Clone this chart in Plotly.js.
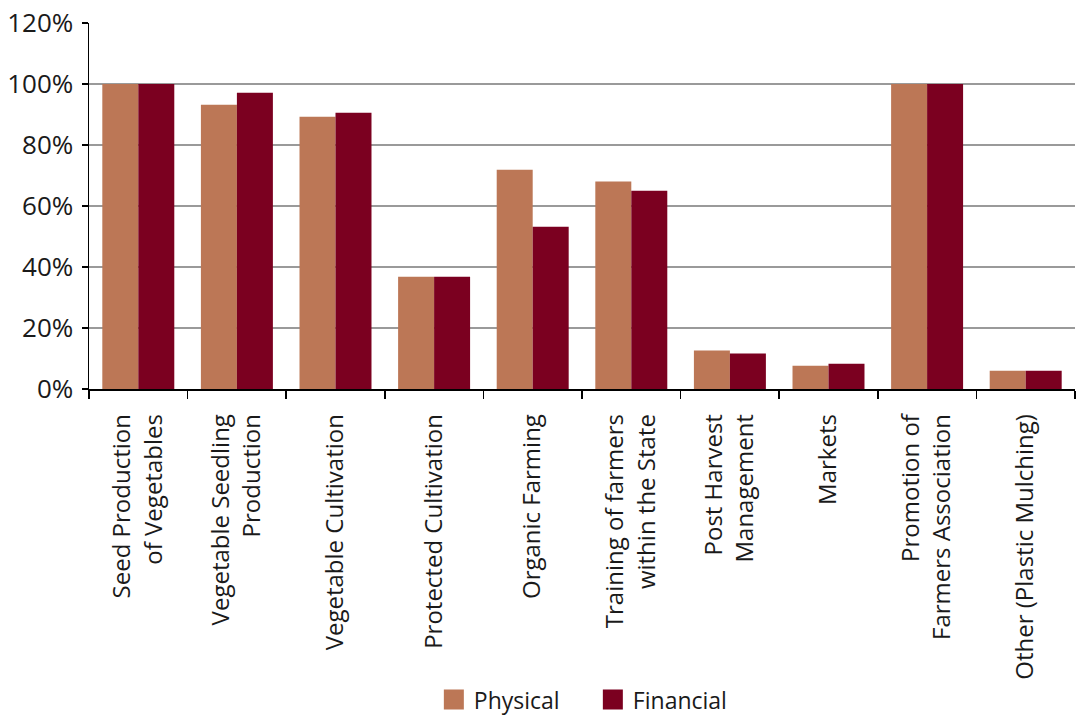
<!DOCTYPE html>
<html>
<head>
<meta charset="utf-8">
<script src="https://cdn.plot.ly/plotly-3.0.1.min.js"></script>
<style>html,body{margin:0;padding:0;background:#fff;}#chart{width:1076px;height:719px;}</style>
</head>
<body>
<div id="chart"></div>
<script>
const categories = [
  "Seed Production<br>of Vegetables",
  "Vegetable Seedling<br>Production",
  "Vegetable Cultivation",
  "Protected Cultivation",
  "Organic Farming",
  "Training of farmers<br>within the State",
  "Post Harvest<br>Management",
  "Markets",
  "Promotion of<br>Farmers Association",
  "Other (Plastic Mulching)"
];
const physical = [1.00, 0.932, 0.893, 0.368, 0.719, 0.680, 0.126, 0.076, 1.00, 0.060];
const financial = [1.00, 0.971, 0.906, 0.368, 0.532, 0.650, 0.116, 0.083, 1.00, 0.060];
const yTickVals = [0, 0.2, 0.4, 0.6, 0.8, 1.0, 1.2];
const yTickText = ["0%", "20%", "40%", "60%", "80%", "100%", "120%"];

const font = "'Open Sans', Lato, sans-serif";
const traces = [
  {type: "bar", name: "Physical", x: categories, y: physical, marker: {color: "#BC7756"}},
  {type: "bar", name: "Financial", x: categories, y: financial, marker: {color: "#7B0020"}}
];
const layout = {
  width: 1076, height: 719,
  margin: {l: 89, r: 1, t: 23, b: 330},
  paper_bgcolor: "#fff", plot_bgcolor: "#fff",
  font: {family: font, color: "#1a1a1a", size: 21},
  barmode: "group", bargap: 0.27, bargroupgap: 0,
  showlegend: true,
  legend: {orientation: "h", x: 0.511, xanchor: "center", yref: "container", y: 0.027, yanchor: "middle",
           font: {size: 23, family: font}, itemwidth: 30, tracegroupgap: 0,
           entrywidth: 114, entrywidthmode: "pixels"},
  xaxis: {
    type: "category", tickangle: -90, tickson: "boundaries", automargin: false,
    ticks: "outside", ticklen: 8, tickcolor: "#000", tickwidth: 1.5,
    ticklabelstandoff: 14,
    showline: true, linecolor: "#000", linewidth: 1.5,
    tickfont: {size: 24, family: font, color: "#1a1a1a"},
    showgrid: false
  },
  yaxis: {
    range: [0, 1.2], tickvals: yTickVals, ticktext: yTickText, automargin: false,
    ticks: "outside", ticklen: 6, tickcolor: "#000", tickwidth: 1.5,
    ticklabelstandoff: 3,
    showline: true, linecolor: "#000", linewidth: 1.5,
    showgrid: true, gridcolor: "#9a9a9a", gridwidth: 1.2,
    zeroline: false,
    tickfont: {size: 26, family: font, color: "#1a1a1a"}
  }
};
Plotly.newPlot("chart", traces, layout, {displayModeBar: false, staticPlot: true}).then(function (gd) {
  gd.querySelectorAll(".legend .legendpoints path").forEach(function (p) {
    p.setAttribute("d", "M10,10H-10V-10H10Z");
  });
});
</script>
</body>
</html>
